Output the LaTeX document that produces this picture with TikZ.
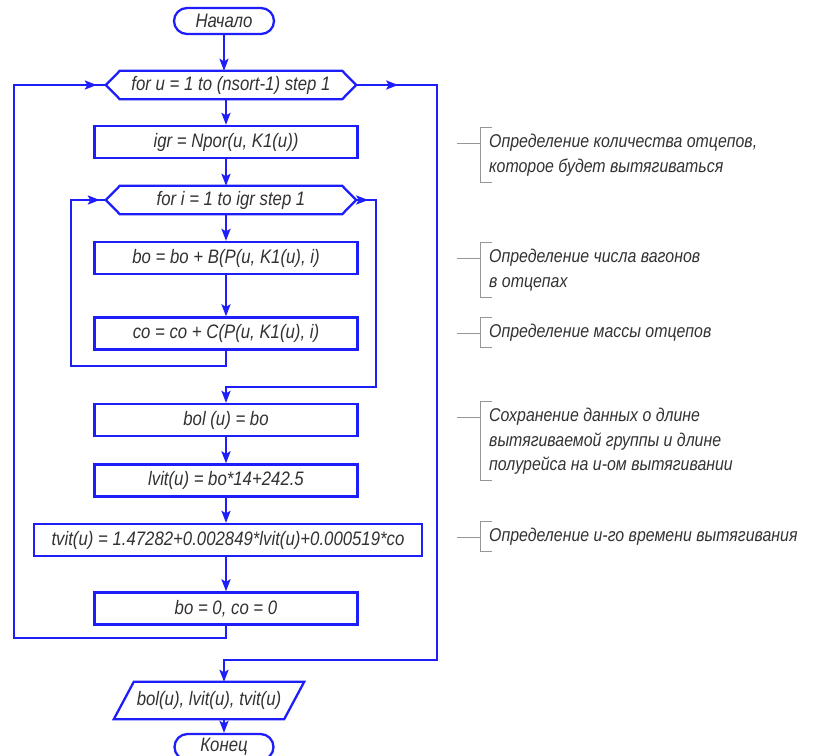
\documentclass[tikz,border=0pt]{standalone}
\usepackage{fontspec}
\setmainfont{Liberation Sans}[FakeStretch=0.86]
\usetikzlibrary{arrows.meta,decorations.markings,shapes.misc}

\definecolor{flowblue}{RGB}{30,30,250}
\definecolor{inkgray}{RGB}{50,50,50}
\definecolor{bracketgray}{RGB}{150,150,150}

\begin{document}
\begin{tikzpicture}[x=1pt,y=-1pt,
  every node/.style={font=\fontsize{19.5}{22}\selectfont\itshape, text=inkgray},
  line/.style={color=flowblue, line width=2.3pt},
  flow/.style={line, -{Stealth[length=12pt,width=9pt,inset=2.5pt]}},
  arrowat/.style={postaction={decorate,decoration={markings,
      mark=at position #1 with {\arrow{Stealth[length=12pt,width=9pt,inset=2.5pt]}}}}},
  term/.style={rounded rectangle, draw=flowblue, line width=2.3pt,
      minimum width=100pt, minimum height=26pt, inner sep=0pt},
  proc/.style={draw=flowblue, line width=2.3pt, minimum width=263pt,
      minimum height=32pt, inner sep=0pt},
  loopbox/.style={minimum width=250pt, minimum height=28pt, inner sep=0pt},
  iobox/.style={minimum width=170pt, minimum height=37pt, inner sep=0pt},
  note/.style={anchor=north west, inner sep=0pt, align=left,
      font=\fontsize{18.5}{24.5}\selectfont\itshape},
  brk/.style={draw=bracketgray, line width=0.9pt},
  hexline/.style={draw=flowblue, line width=2.3pt, line join=miter}
]
\useasboundingbox (0,0) rectangle (816,755);

% --- flowchart blocks ---
\node[term] (start) at (224,21) {Начало};
\node[loopbox] (foru) at (231,85) {for u = 1 to (nsort-1) step 1};
\node[proc] (igr) at (226,142) {igr = Npor(u, K1(u))};
\node[loopbox] (fori) at (231,200) {for i = 1 to igr step 1};
\node[proc] (bo) at (226,258) {bo = bo + B(P(u, K1(u), i)};
\node[proc] (co) at (226,333.5) {co = co + C(P(u, K1(u), i)};
\node[proc] (bol) at (226,420) {bol (u) = bo};
\node[proc] (lvit) at (226,480.5) {lvit(u) = bo*14+242.5};
\node[proc, minimum width=388pt] (tvit) at (228,540)
  {tvit(u) = 1.47282+0.002849*lvit(u)+0.000519*co};
\node[proc] (bozero) at (226,608.5) {bo = 0, co = 0};
\node[iobox] (outp) at (209,700.5) {bol(u), lvit(u), tvit(u)};
\node[term, minimum width=99pt] (fin) at (224,747) {Конец};

% loop headers (hexagons)
\foreach \h in {foru,fori}{
  \draw[hexline] (\h.west) -- ([xshift=14pt]\h.north west)
    -- ([xshift=-14pt]\h.north east) -- (\h.east)
    -- ([xshift=-14pt]\h.south east) -- ([xshift=14pt]\h.south west) -- cycle;
}
% output parallelogram
\draw[hexline] ([xshift=10pt]outp.north west) -- ([xshift=10pt]outp.north east)
  -- ([xshift=-10pt]outp.south east) -- ([xshift=-10pt]outp.south west) -- cycle;

% --- loop routing points ---
\coordinate (inL) at (71,366);
\coordinate (inR) at (376,387);
\coordinate (outL) at (14,638);
\coordinate (outR) at (437,660);
\coordinate (outJ) at (224,660);

% --- connectors ---
\draw[flow] (start.south) -- (start.south |- foru.north);
\draw[flow] (foru.south -| igr) -- (igr.north);
\draw[flow] (igr.south) -- (igr.south |- fori.north);
\draw[flow] (fori.south -| bo) -- (bo.north);
\draw[flow] (bo.south) -- (co.north);
\draw[line, arrowat=-6pt] (co.south) |- (inL) |- (fori.west);
\draw[flow, arrowat=12pt] (fori.east) -| (inR) -- (inR -| bol) -- (bol.north);
\draw[flow] (bol.south) -- (lvit.north);
\draw[flow] (lvit.south) -- (lvit.south |- tvit.north);
\draw[flow] (tvit.south -| bozero) -- (bozero.north);
\draw[line, arrowat=-9pt] (bozero.south) |- (outL) |- (foru.west);
\draw[flow, arrowat=42pt] (foru.east) -| (outR) -- (outJ) -- (outJ |- outp.north);
\draw[flow] (outp.south -| fin) -- (fin.north);

% --- comments ---
\node[note] (c1) at (489,134) {Определение количества отцепов,\\которое будет вытягиваться};
\node[note] (c2) at (489,249) {Определение числа вагонов\\в отцепах};
\node[note] (c3) at (489,324) {Определение массы отцепов};
\node[note] (c4) at (489,408) {Сохранение данных о длине\\вытягиваемой группы и длине\\полурейса на u-ом вытягивании};
\node[note] (c5) at (489,528) {Определение u-го времени вытягивания};

\foreach \c in {c1,c2,c3,c4,c5}{
  \draw[brk] ([shift={(3,-7)}]\c.north west) -| ([shift={(-9,6)}]\c.south west) -- ++(12,0);
  \draw[brk] ([shift={(-9,9)}]\c.north west) -- ++(-23,0);
}
\end{tikzpicture}
\end{document}
